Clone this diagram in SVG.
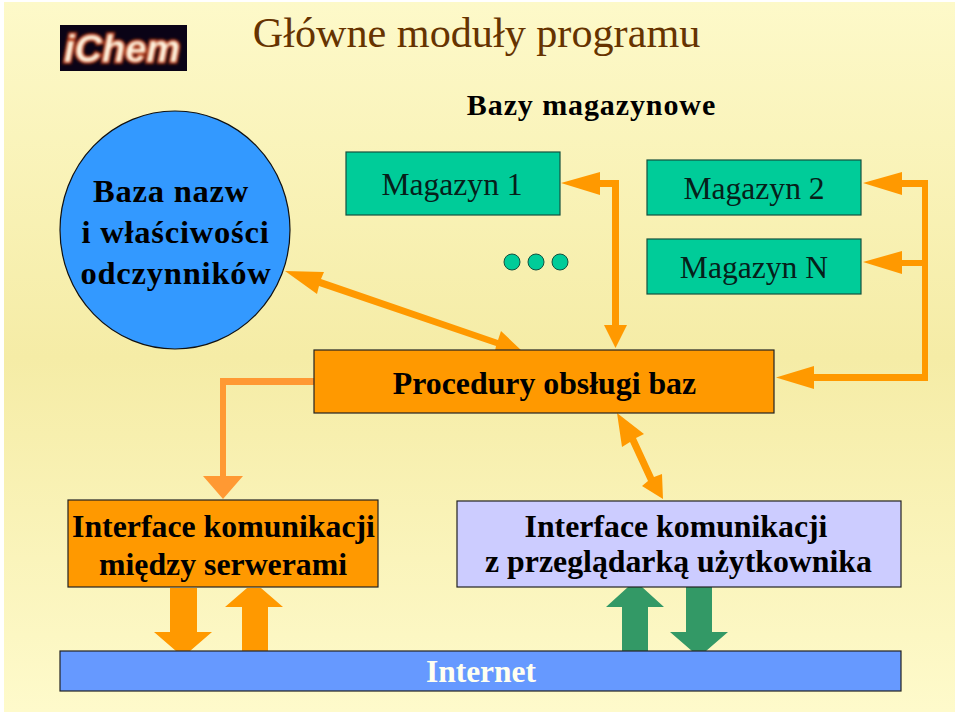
<svg xmlns="http://www.w3.org/2000/svg" width="960" height="716" viewBox="0 0 960 716">
<style>
text{font-family:"Liberation Serif","Times New Roman",serif;text-anchor:middle;fill:#000}
.b{font-weight:bold}
.box{stroke:#222;stroke-width:1.2}
.mag{fill:#00CC99;stroke:#14503E}
.or{fill:#FF9900}
.lo{fill:#FF9933}
.gr{fill:#339966}
.n{font-size:31.600px;fill:#06201A}
.t{font-size:31.800px;font-weight:bold}
.c{font-size:32.500px;font-weight:bold;letter-spacing:.8px}
</style>
<defs>
<linearGradient id="bg" x1="0" y1="0" x2="0" y2="1">
<stop offset="0" stop-color="#FDF9C9"/>
<stop offset="0.5" stop-color="#F5ECA6"/>
<stop offset="1" stop-color="#FEFACB"/>
</linearGradient>
<filter id="glow" x="-20%" y="-30%" width="140%" height="160%"><feGaussianBlur stdDeviation="1.6"/></filter>
</defs>
<rect width="960" height="716" fill="#fff"/>
<rect x="4" y="2" width="951" height="710" fill="url(#bg)"/>
<g id="logo">
<rect x="60" y="25" width="127" height="46" fill="#0A0316"/>
<text x="122" y="62" font-size="38" font-style="italic" font-weight="bold" style="font-family:'Liberation Sans',Arial,sans-serif;fill:#B03010" stroke="#B03010" stroke-width="3.500" filter="url(#glow)">iChem</text>
<text x="122" y="62" font-size="38" font-style="italic" font-weight="bold" style="font-family:'Liberation Sans',Arial,sans-serif;fill:#FFF4E0" filter="url(#glow)">iChem</text>
</g>
<text id="title" x="476.500" y="47" font-size="42.200" style="fill:#663300">Główne moduły programu</text>
<text id="subtitle" x="591.500" y="115" font-size="30" letter-spacing=".9" class="b">Bazy magazynowe</text>
<g id="connectors">
<path class="or" d="M561 183L600 172V180H619V325H627L615.500 348L604 325H612V187H600V195Z"/>
<path class="or" d="M863 183L902 172V180H928V381H814V389L776 377.500L814 366V374H922V266H902V274L863 262L902 251V260H922V187H902V195Z"/>
<path class="or" d="M285 271L324 272L321 279L498 340L501 331L522 351L495 351L496 346L319 286L317 294Z"/>
<path class="lo" d="M314 378H220V476H203L223 499L243 476H226V385H314Z"/>
<path class="or" d="M617 413L644 434L636 438L654 477L662 474L663 499L642 486L648 481L630 442L622 447Z"/>
<path class="or" d="M170 588H197V632H212L190 651H176L154 632H170Z"/>
<path class="or" d="M268 651H242V607H225L247 588H261L283 607H268Z"/>
<path class="gr" d="M648 651H622V607H606L628 587H642L664 607H648Z"/>
<path class="gr" d="M686 587H712V632H728L706 651H692L670 632H686Z"/>
</g>
<g id="baza">
<ellipse cx="175" cy="230" rx="115" ry="119" fill="#3399FF" stroke="#111" stroke-width="1.2"/>
<text x="171" y="202" class="c">Baza nazw</text>
<text x="175.500" y="243" class="c">i właściwości</text>
<text x="176" y="284" class="c">odczynników</text>
</g>
<g id="magazyn1"><rect class="box mag" x="346" y="152" width="214" height="63"/><text class="n" x="452" y="195">Magazyn 1</text></g>
<g id="magazyn2"><rect class="box mag" x="647" y="160" width="214" height="55"/><text class="n" x="754" y="199">Magazyn 2</text></g>
<g id="magazynN"><rect class="box mag" x="647" y="239" width="214" height="55"/><text class="n" x="754" y="278">Magazyn N</text></g>
<g id="dots" stroke-width="1"><circle class="mag" cx="512" cy="262" r="8"/><circle class="mag" cx="536" cy="262" r="8"/><circle class="mag" cx="560" cy="262" r="8"/></g>
<g id="procedury"><rect class="box or" x="314" y="350" width="460" height="63"/><text class="t" x="544.500" y="394">Procedury obsługi baz</text></g>
<g id="interface1"><rect class="box or" x="68" y="500" width="310" height="87"/><text class="t" x="223.500" y="537">Interface komunikacji</text><text class="t" x="223" y="575">między serwerami</text></g>
<g id="interface2"><rect class="box" fill="#CCCCFF" x="457" y="501" width="444" height="86"/><text class="t" x="676" y="537">Interface komunikacji</text><text class="t" x="678.500" y="572">z przeglądarką użytkownika</text></g>
<g id="internet"><rect class="box" fill="#6699FF" x="60" y="651" width="841" height="40"/><text x="481" y="682" font-size="31.500" font-weight="bold" style="fill:#FFFFF0">Internet</text></g>
</svg>
